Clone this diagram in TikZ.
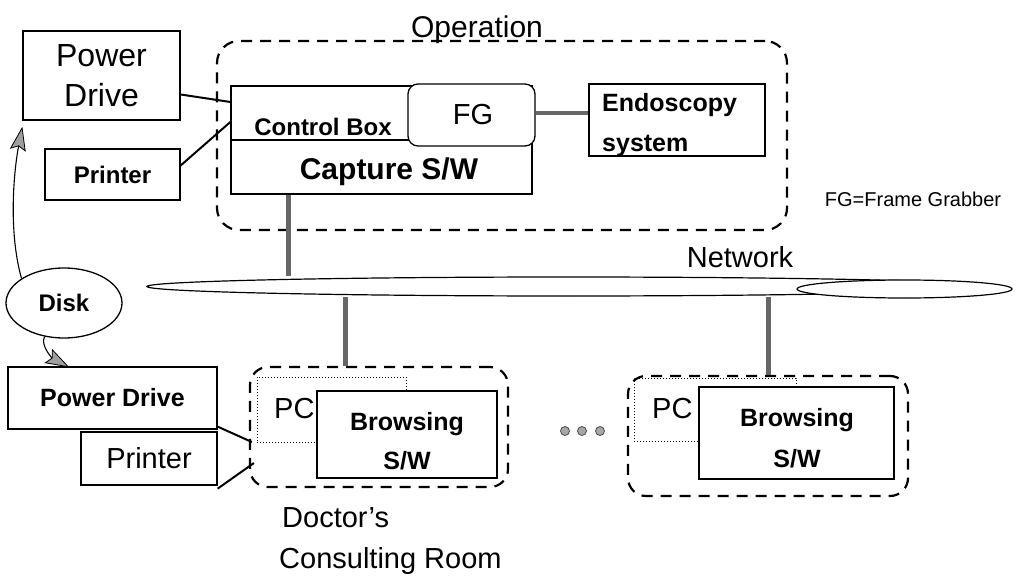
\documentclass[tikz,border=0pt]{standalone}
\usepackage{fontspec}
\setmainfont{Liberation Sans}
\usetikzlibrary{arrows.meta,calc,shapes.geometric}
\begin{document}
\begin{tikzpicture}[x=1pt,y=-1pt,
  box/.style={draw,line width=1.3pt,fill=white,inner sep=0pt},
  grp/.style={draw,line width=2.2pt,dash pattern=on 11pt off 8pt,rounded corners=22pt},
  pcbox/.style={draw,line width=1pt,dotted,inner sep=0pt},
  link/.style={line width=2pt},
  trunk/.style={draw=black!60,line width=5pt},
  arr/.style={line width=1.1pt,-{Stealth[length=24pt,width=16pt,inset=4pt,fill=gray!75,line width=0.8pt]}},
  big/.style={font=\fontsize{29}{34}\selectfont},
  bld/.style={font=\fontsize{25}{30}\selectfont\bfseries},
  txt/.style={inner sep=0pt,anchor=base}]
\useasboundingbox (0,0) rectangle (1027,577);
% ---------- Operation room ----------
\node[grp,minimum width=570pt,minimum height=189pt] (op) at (502,135.5) {};
\node[txt,font=\fontsize{30}{36}\selectfont] (optitle) at (477,38) {Operation};
\node[box,minimum width=301pt,minimum height=54pt] (ctrl) at (381.5,113) {};
\node[box,minimum width=301pt,minimum height=54pt] (cap) at (381.5,167) {};
\node[box,rounded corners=10pt,minimum width=127pt,minimum height=62pt] (fg) at (471.5,115) {};
\node[txt,big] (fgtext) at (473,125) {FG};
\node[txt,font=\fontsize{24}{28}\selectfont\bfseries] (ctrltext) at (323,136) {Control Box};
\node[txt,font=\fontsize{30}{34}\selectfont\bfseries] (captext) at (389,180) {Capture S/W};
\node[box,minimum width=176pt,minimum height=72pt] (endo) at (677,120) {};
\node[txt,bld,anchor=base west] (endo1) at (602,112) {Endoscopy};
\node[txt,bld,anchor=base west] (endo2) at (602,152) {system};
\draw[trunk,line width=4pt] (fg.east |- endo.west) ++(0,-7) coordinate (fgr) -- (fgr -| endo.west);
\node[txt,font=\fontsize{20}{24}\selectfont] (fgnote) at (913,207) {FG=Frame Grabber};
% ---------- left top devices ----------
\node[box,minimum width=157pt,minimum height=89pt,align=center,font=\fontsize{32}{40}\selectfont] (pd1) at (101.5,75.5) {Power\\Drive};
\node[box,minimum width=135pt,minimum height=51pt,font=\fontsize{24}{28}\selectfont\bfseries] (pr1) at (112.5,174.5) {Printer};
\draw[link] ($(pd1.east)+(0,19)$) -- ($(ctrl.west)+(0,-11)$);
\draw[link] ($(pr1.east)+(0,-9)$) -- ($(ctrl.west)+(0,9)$);
% ---------- Disk ----------
\node[draw,ellipse,line width=1.3pt,minimum width=116pt,minimum height=70pt,inner sep=0pt,font=\fontsize{24}{28}\selectfont\bfseries] (disk) at (64,303) {Disk};
% ---------- Network ----------
\node[draw,ellipse,line width=1.2pt,fill=white,minimum width=843pt,minimum height=19pt,inner sep=0pt] (net) at (568.5,286.5) {};
\node[draw,ellipse,line width=1.2pt,fill=white,minimum width=215pt,minimum height=18pt,inner sep=0pt] (netb) at (904.5,289) {};
\node[txt,big] (nettext) at (740,267) {Network};
\draw[trunk] (cap.south -| 288,0) -- (net.north -| 288,0);
% ---------- Doctor's room 1 ----------
\node[grp,rounded corners=18pt,minimum width=258pt,minimum height=120pt] (doc1) at (379,427) {};
\node[pcbox,minimum width=149pt,minimum height=65pt] (pc1) at (331.5,409.5) {};
\node[box,minimum width=180pt,minimum height=87pt] (br1) at (407,434.5) {};
\node[txt,big,anchor=base west] (pc1t) at (274,418) {PC};
\node[txt,bld] (br1a) at (407,430) {Browsing};
\node[txt,bld] (br1b) at (407,469) {S/W};
\node[txt,big,anchor=base west] (doct1) at (282,527) {Doctor's};
\node[txt,big,anchor=base west] (doct2) at (279,568) {Consulting Room};
% ---------- Doctor's room 2 ----------
\node[grp,rounded corners=18pt,minimum width=280pt,minimum height=120pt] (doc2) at (768,436) {};
\node[pcbox,minimum width=162pt,minimum height=63pt] (pc2) at (715,409.5) {};
\node[box,minimum width=195pt,minimum height=92pt] (br2) at (796.5,433) {};
\node[txt,big,anchor=base west] (pc2t) at (652,418) {PC};
\node[txt,bld] (br2a) at (797,426) {Browsing};
\node[txt,bld] (br2b) at (797,467) {S/W};
\draw[trunk] (net.south -| 345,0) -- (doc1.north -| 345,0);
\draw[trunk] (net.south -| 768,0) -- (doc2.north -| 768,0);
\foreach \i/\xx in {1/565,2/582,3/600}
  \node[circle,draw=black!70,fill=gray!70,line width=0.8pt,minimum size=9pt,inner sep=0pt] (dot\i) at (\xx,431) {};
% ---------- left bottom devices ----------
\node[box,minimum width=209pt,minimum height=62pt,font=\fontsize{25}{30}\selectfont\bfseries] (pd2) at (112.5,398) {Power Drive};
\node[box,minimum width=136pt,minimum height=53pt,big] (pr2) at (149,458.5) {Printer};
\draw[link] ($(pd2.south east)+(0,-3)$) -- ($(doc1.west)+(3,15)$);
\draw[link] ($(pr2.south east)+(0,3)$) -- ($(doc1.west)+(5,36)$);
% ---------- Disk arrows ----------
\draw[arr] (disk.150) .. controls (8,230) and (14,170) .. ($(pd1.south west)+(0,6)$);
\draw[arr] (disk.240) .. controls (40,345) and (52,358) .. ($(pd2.north west)+(62,1)$);
\end{tikzpicture}
\end{document}
